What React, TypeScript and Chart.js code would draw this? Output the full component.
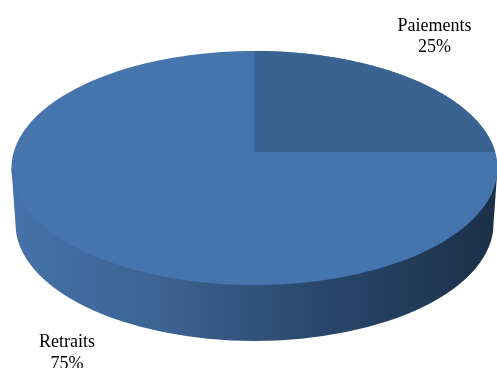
import React, { useEffect, useRef } from "react";
import { Chart, registerables } from "chart.js";

Chart.register(...registerables);

const categories = ["Paiements", "Retraits"];
const shares = [25, 75];
const sliceColors = ["#3b6391", "#4674ad"];
const labelAnchors = [
  { x: 434.5, y: 30.5 },
  { x: 67, y: 347 },
];

// Perspective view of the pie's top face
const CX = 254.5;
const VY = 152;
const RX = 243;
const TOP = 51;
const BOTTOM = 285;
const DEPTH_BOTTOM = 341;

const up = VY - TOP;
const down = BOTTOM - VY;
const C = (up - down) / (up + down);
const A = up * (1 - C);
const B = RX * Math.sqrt(1 - C * C);

const project = (theta: number) => {
  const u = Math.cos(theta);
  const v = Math.sin(theta);
  const d = 1 + C * v;
  return { x: CX + (B * u) / d, y: VY + (A * v) / d };
};

const pie3d = {
  id: "pie3d",
  beforeDatasetDraw(chart: any, args: any) {
    const { ctx } = chart;
    const meta = args.meta;

    // Cylinder wall
    const midY = (TOP + BOTTOM) / 2;
    const rimY = midY + 56;
    const ry = DEPTH_BOTTOM - rimY;
    const rx = RX - 4;
    const grad = ctx.createLinearGradient(CX - RX, 0, CX + RX, 0);
    grad.addColorStop(0, "#4672a9");
    grad.addColorStop(0.3, "#3c6494");
    grad.addColorStop(0.6, "#2b4a70");
    grad.addColorStop(1, "#1b3047");
    ctx.save();
    ctx.beginPath();
    ctx.moveTo(CX - RX, midY);
    ctx.lineTo(CX - rx, rimY);
    ctx.ellipse(CX, rimY, rx, ry, 0, Math.PI, 0, true);
    ctx.lineTo(CX + RX, midY);
    ctx.closePath();
    ctx.fillStyle = grad;
    ctx.fill();

    // Top face underlay in the largest slice's colour, so the slice seams stay clean
    const largest = shares.indexOf(Math.max(...shares));
    const steps = 240;
    ctx.beginPath();
    for (let s = 0; s <= steps; s++) {
      const p = project((Math.PI * 2 * s) / steps);
      if (s === 0) ctx.moveTo(p.x, p.y);
      else ctx.lineTo(p.x, p.y);
    }
    ctx.closePath();
    ctx.fillStyle = sliceColors[largest];
    ctx.fill();

    // Top face slices, from the angles the pie controller computed
    meta.data.forEach((arc: any, i: number) => {
      if (i === largest) return;
      const { startAngle, endAngle } = arc;
      ctx.beginPath();
      ctx.moveTo(CX, VY);
      for (let s = 0; s <= steps; s++) {
        const p = project(startAngle + ((endAngle - startAngle) * s) / steps);
        ctx.lineTo(p.x, p.y);
      }
      ctx.closePath();
      ctx.fillStyle = sliceColors[i];
      ctx.fill();
    });
    ctx.restore();
    return false;
  },
  afterDatasetsDraw(chart: any) {
    const { ctx } = chart;
    ctx.save();
    ctx.font = '18px "Liberation Serif"';
    ctx.fillStyle = "#000000";
    ctx.textAlign = "center";
    ctx.textBaseline = "alphabetic";
    categories.forEach((name, i) => {
      const a = labelAnchors[i];
      ctx.fillText(name, a.x, a.y);
      ctx.fillText(`${shares[i]}%`, a.x, a.y + 21.5);
    });
    ctx.restore();
  },
};

export default function App() {
  const ref = useRef<HTMLCanvasElement>(null);
  useEffect(() => {
    document.body.style.margin = "0";
    const chart = new Chart(ref.current!, {
      type: "pie",
      data: {
        labels: categories,
        datasets: [{ data: shares, backgroundColor: sliceColors, borderWidth: 0 }],
      },
      options: {
        responsive: false,
        animation: false,
        plugins: { legend: { display: false }, tooltip: { enabled: false } },
      },
      plugins: [pie3d],
    } as any);
    return () => chart.destroy();
  }, []);
  return <canvas ref={ref} width={497} height={368} style={{ display: "block" }} />;
}
